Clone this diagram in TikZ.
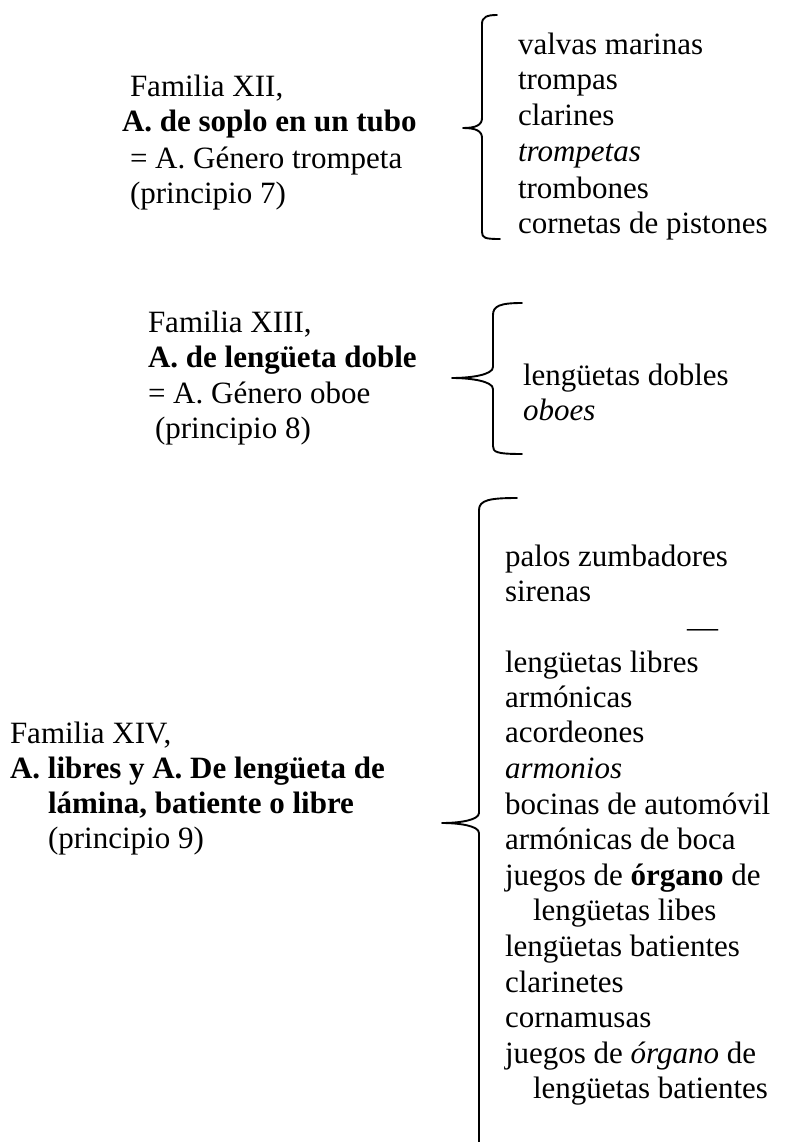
\documentclass[tikz,border=0pt]{standalone}
\usepackage{fontspec}
\setmainfont{Liberation Serif}
\begin{document}
\begin{tikzpicture}[x=1pt,y=-1pt,
  txt/.style={anchor=base west,inner sep=0pt,outer sep=0pt,font=\fontsize{31}{36}\selectfont},
  bracepath/.style={line width=1.9pt,line cap=round,line join=round}]
\useasboundingbox (0,0) rectangle (793,1142);
% ---------- Block XII ----------
\node[txt] (l1a) at (130,97) {Familia XII,};
\node[txt] (l1b) at (122,132) {\textbf{A. de soplo en un tubo}};
\node[txt] (l1c) at (130,168) {= A. Género trompeta};
\node[txt] (l1d) at (130,204) {(principio 7)};
\node[txt] (r1a) at (518,55) {valvas marinas};
\node[txt] (r1b) at (518,90) {trompas};
\node[txt] (r1c) at (518,126) {clarines};
\node[txt] (r1d) at (518,162) {\textit{trompetas}};
\node[txt] (r1e) at (518,198) {trombones};
\node[txt] (r1f) at (518,233) {cornetas de pistones};
\coordinate (b1top) at (497,15);
\coordinate (b1tip) at (463,128);
\coordinate (b1bot) at (500,239);
\draw[bracepath] (b1top) .. controls (487,15) and (482,17) .. (482,24)
  -- (482,118) .. controls (482,125) and (476,128) .. (b1tip)
  .. controls (476,128) and (482,131) .. (482,138)
  -- (482,232) .. controls (482,238) and (485,239) .. (b1bot);
% ---------- Block XIII ----------
\node[txt] (l2a) at (148,332) {Familia XIII,};
\node[txt] (l2b) at (148,367) {\textbf{A. de lengüeta doble}};
\node[txt] (l2c) at (148,403) {= A. Género oboe};
\node[txt] (l2d) at (155,438) {(principio 8)};
\node[txt] (r2a) at (523,385) {lengüetas dobles};
\node[txt] (r2b) at (523,420) {\textit{oboes}};
\coordinate (b2top) at (522,303);
\coordinate (b2tip) at (452,378);
\coordinate (b2bot) at (522,454);
\draw[bracepath] (b2top) .. controls (500,303) and (493,306) .. (493,315)
  -- (493,367) .. controls (493,375) and (470,378) .. (b2tip)
  .. controls (470,378) and (493,381) .. (493,389)
  -- (493,446) .. controls (493,452) and (496,454) .. (b2bot);
% ---------- Block XIV ----------
\node[txt] (l3a) at (10,743) {Familia XIV,};
\node[txt] (l3b) at (10,778) {\textbf{A. libres y A. De lengüeta de}};
\node[txt] (l3c) at (48,813) {\textbf{lámina, batiente o libre}};
\node[txt] (l3d) at (48,848) {(principio 9)};
\node[txt] (r3a) at (505,566) {palos zumbadores};
\node[txt] (r3b) at (505,601) {sirenas};
\node[txt] (r3dash) at (687,637) {—};
\node[txt] (r3c) at (505,672) {lengüetas libres};
\node[txt] (r3d) at (505,707) {armónicas};
\node[txt] (r3e) at (505,742) {acordeones};
\node[txt] (r3f) at (505,778) {\textit{armonios}};
\node[txt] (r3g) at (505,814) {bocinas de automóvil};
\node[txt] (r3h) at (505,849) {armónicas de boca};
\node[txt] (r3i) at (505,885) {juegos de \textbf{órgano} de};
\node[txt] (r3j) at (533,920) {lengüetas libes};
\node[txt] (r3k) at (505,956) {lengüetas batientes};
\node[txt] (r3l) at (505,992) {clarinetes};
\node[txt] (r3m) at (505,1027) {cornamusas};
\node[txt] (r3n) at (505,1063) {juegos de \textit{órgano} de};
\node[txt] (r3o) at (533,1098) {lengüetas batientes};
\coordinate (b3top) at (517,498);
\coordinate (b3tip) at (442,823);
\coordinate (b3bot) at (479,1150);
\draw[bracepath] (b3top) .. controls (490,498) and (479,500) .. (479,510)
  -- (479,813) .. controls (479,820) and (460,823) .. (b3tip)
  .. controls (460,823) and (479,826) .. (479,833)
  -- (b3bot);
\end{tikzpicture}
\end{document}
